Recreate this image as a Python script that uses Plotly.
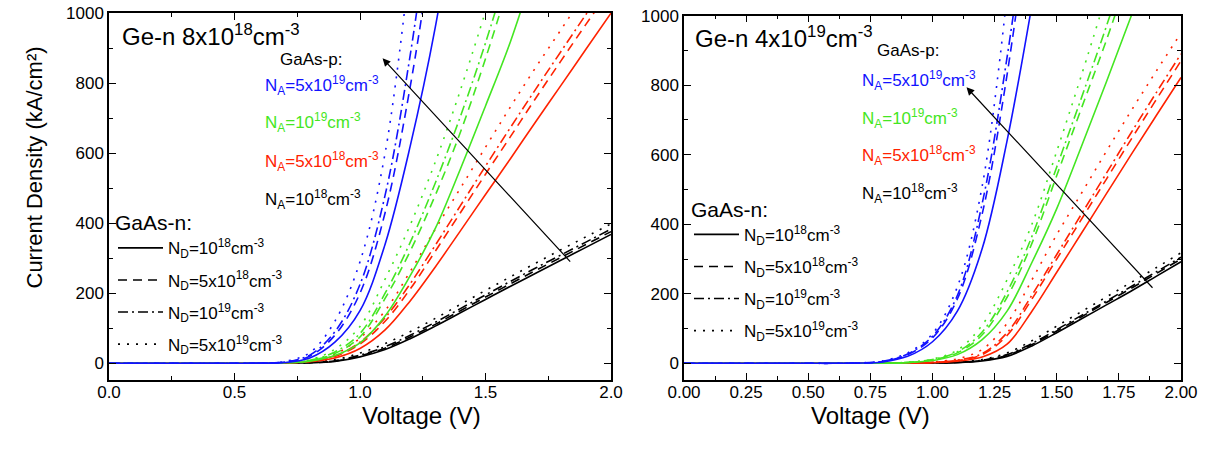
import plotly.graph_objects as go

# ---------------- data ----------------
V = [0.0, 0.5, 0.6, 0.7, 0.8, 0.9, 1.0, 1.1, 1.2, 1.3, 1.4, 1.5, 1.6, 1.7, 1.8, 1.9, 2.0]

# Left panel: Ge-n 8x10^18 cm^-3   (current density, kA/cm^2)
L_BK_SOLID = [0, 0, 0.1, 0.4, 1, 5, 18, 39, 70, 106, 144, 182, 220, 257, 294, 331, 368]
L_BK_DASH  = [0, 0, 0.1, 0.5, 1.5, 6, 21, 43, 75, 111, 150, 189, 227, 265, 302, 339, 376]
L_BK_DDOT  = [0, 0, 0.1, 0.6, 2, 7, 23, 47, 80, 117, 156, 195, 234, 272, 309, 346, 383]
L_BK_DOT   = [0, 0, 0.2, 0.8, 3, 10, 29, 56, 90, 128, 168, 208, 247, 286, 324, 361, 398]

L_RD_SOLID = [0, 0, 0.1, 1, 4, 15, 42, 95, 178, 275, 378, 482, 585, 690, 793, 897, 1000]
L_RD_DASH  = [0, 0, 0.1, 1.2, 5, 19, 55, 120, 212, 320, 430, 540, 648, 757, 863, 968, 1070]
L_RD_DDOT  = [0, 0, 0.1, 1.3, 5.5, 21, 60, 130, 227, 337, 450, 563, 674, 783, 890, 996, 1100]
L_RD_DOT   = [0, 0, 0.2, 1.6, 7, 26, 72, 150, 262, 383, 500, 617, 733, 845, 952, 1060, None]

L_GR_SOLID = [0, 0, 0.1, 1.2, 6, 22, 58, 135, 250, 385, 555, 735, 920, 1140, None, None, None]
L_GR_DASH  = [0, 0, 0.1, 1.5, 7, 28, 75, 185, 320, 480, 660, 870, 1100, None, None, None, None]
L_GR_DDOT  = [0, 0, 0.1, 1.7, 8, 32, 85, 200, 345, 515, 705, 915, 1150, None, None, None, None]
L_GR_DOT   = [0, 0, 0.2, 2, 10, 40, 105, 240, 395, 575, 780, 1005, None, None, None, None, None]

L_BL_SOLID = [0, 0, 0.2, 2, 15, 60, 150, 340, 620, 960, 1400, None, None, None, None, None, None]
L_BL_DASH  = [0, 0, 0.3, 3, 20, 80, 200, 430, 790, 1250, None, None, None, None, None, None, None]
L_BL_DDOT  = [0, 0, 0.3, 3.5, 23, 90, 225, 480, 880, 1400, None, None, None, None, None, None, None]
L_BL_DOT   = [0, 0, 0.4, 5, 30, 120, 290, 600, 1150, None, None, None, None, None, None, None, None]

# Right panel: Ge-n 4x10^19 cm^-3
R_BK_SOLID = [0, 0, 0, 0, 0.2, 0.5, 1, 2, 7, 20, 50, 88, 128, 168, 208, 250, 292]
R_BK_DASH  = [0, 0, 0, 0, 0.2, 0.6, 1.2, 2.5, 8, 23, 54, 93, 134, 175, 216, 258, 300]
R_BK_DDOT  = [0, 0, 0, 0, 0.3, 0.7, 1.4, 3, 9, 25, 57, 97, 138, 179, 221, 263, 305]
R_BK_DOT   = [0, 0, 0, 0, 0.3, 0.8, 1.7, 4, 11, 30, 65, 107, 149, 191, 233, 275, 318]

R_RD_SOLID = [0, 0, 0, 0, 0.1, 0.5, 2, 6, 18, 55, 150, 262, 375, 488, 601, 712, 822]
R_RD_DASH  = [0, 0, 0, 0, 0.1, 0.6, 2.5, 8, 25, 80, 185, 300, 415, 530, 645, 758, 870]
R_RD_DDOT  = [0, 0, 0, 0, 0.1, 0.7, 3, 9, 28, 88, 196, 313, 430, 547, 664, 778, 890]
R_RD_DOT   = [0, 0, 0, 0, 0.2, 0.9, 4, 13, 40, 115, 240, 370, 490, 610, 727, 840, 950]

R_GR_SOLID = [0, 0, 0, 0, 0.3, 2, 8, 25, 68, 150, 290, 445, 625, 810, 1000, 1200, None]
R_GR_DASH  = [0, 0, 0, 0, 0.4, 2.5, 10, 30, 82, 190, 345, 540, 735, 930, 1140, None, None]
R_GR_DDOT  = [0, 0, 0, 0, 0.4, 2.7, 11, 33, 90, 205, 365, 565, 765, 970, 1190, None, None]
R_GR_DOT   = [0, 0, 0, 0, 0.5, 3, 12, 38, 110, 240, 400, 610, 830, 1060, None, None, None]

R_BL_SOLID = [0, 0, 0, 0.5, 4, 20, 62, 150, 330, 640, 1030, None, None, None, None, None, None]
R_BL_DASH  = [0, 0, 0, 0.8, 5, 25, 73, 185, 430, 830, 1350, None, None, None, None, None, None]
R_BL_DDOT  = [0, 0, 0, 0.9, 6, 27, 78, 195, 460, 880, 1400, None, None, None, None, None, None]
R_BL_DOT   = [0, 0, 0.1, 1, 7, 30, 85, 220, 510, 1060, None, None, None, None, None, None, None]

ND_LABELS = ["N<sub>D</sub>=10<sup>18</sup>cm<sup>-3</sup>",
             "N<sub>D</sub>=5x10<sup>18</sup>cm<sup>-3</sup>",
             "N<sub>D</sub>=10<sup>19</sup>cm<sup>-3</sup>",
             "N<sub>D</sub>=5x10<sup>19</sup>cm<sup>-3</sup>"]
NA_LABELS = ["N<sub>A</sub>=5x10<sup>19</sup>cm<sup>-3</sup>",
             "N<sub>A</sub>=10<sup>19</sup>cm<sup>-3</sup>",
             "N<sub>A</sub>=5x10<sup>18</sup>cm<sup>-3</sup>",
             "N<sub>A</sub>=10<sup>18</sup>cm<sup>-3</sup>"]

# ---------------- styles ----------------
FONT = "Liberation Sans, Arial, sans-serif"
BLACK, RED, GREEN, BLUE = "#000000", "#ff2200", "#44e622", "#1212ff"
DASHES = ["solid", "9px,6px", "10px,4px,2px,4px", "2px,7px"]
LW = 1.6
W, H = 1210, 450


def px(x):
    """screen pixel x -> paper fraction"""
    return x / W


def py(y):
    """screen pixel y -> paper fraction"""
    return 1 - y / H


fig = go.Figure()

panels = [
    ("x", "y", [(BLACK, [L_BK_SOLID, L_BK_DASH, L_BK_DDOT, L_BK_DOT]),
                (RED, [L_RD_SOLID, L_RD_DASH, L_RD_DDOT, L_RD_DOT]),
                (GREEN, [L_GR_SOLID, L_GR_DASH, L_GR_DDOT, L_GR_DOT]),
                (BLUE, [L_BL_SOLID, L_BL_DASH, L_BL_DDOT, L_BL_DOT])]),
    ("x2", "y2", [(BLACK, [R_BK_SOLID, R_BK_DASH, R_BK_DDOT, R_BK_DOT]),
                  (RED, [R_RD_SOLID, R_RD_DASH, R_RD_DDOT, R_RD_DOT]),
                  (GREEN, [R_GR_SOLID, R_GR_DASH, R_GR_DDOT, R_GR_DOT]),
                  (BLUE, [R_BL_SOLID, R_BL_DASH, R_BL_DDOT, R_BL_DOT])]),
]

for xa, ya, groups in panels:
    for color, series in groups:
        for k in [3, 2, 1, 0]:
            fig.add_trace(go.Scatter(
                x=V, y=series[k], xaxis=xa, yaxis=ya, mode="lines",
                line=dict(color=color, width=LW, dash=DASHES[k], shape="spline", smoothing=1.0),
                showlegend=False, hoverinfo="skip"))

# legend entries (style keys) for both panels
for li, (xa, ya) in enumerate([("x", "y"), ("x2", "y2")]):
    for k in range(4):
        fig.add_trace(go.Scatter(
            x=[None], y=[None], xaxis=xa, yaxis=ya, mode="lines",
            line=dict(color=BLACK, width=LW, dash=DASHES[k]),
            name=ND_LABELS[k], legend="legend" if li == 0 else "legend2",
            legendgroup=f"g{li}{k}", showlegend=True))

axis_common = dict(showline=True, linecolor="black", linewidth=1.5, mirror="allticks",
                   ticks="inside", ticklen=7, tickwidth=1.2, tickcolor="black",
                   showgrid=False, zeroline=False, automargin=False,
                   ticklabeloverflow="allow",
                   tickfont=dict(family=FONT, size=17, color="black"))

legend_common = dict(xanchor="left", yanchor="top", bgcolor="rgba(0,0,0,0)",
                     font=dict(family=FONT, size=17),
                     title=dict(text="GaAs-n:", font=dict(family=FONT, size=21)),
                     itemwidth=45, traceorder="grouped")

fig.update_layout(
    width=W, height=H, margin=dict(l=0, r=0, t=0, b=0),
    paper_bgcolor="white", plot_bgcolor="white",
    font=dict(family=FONT, color="black"),
    xaxis=dict(domain=[px(109), px(611)], range=[0, 2], dtick=0.5, tickformat=".1f",
               anchor="y", ticklabelstandoff=-4,
               minor=dict(dtick=0.25, ticks="inside", ticklen=4, tickcolor="black"),
               **axis_common),
    yaxis=dict(domain=[py(380), py(13)], range=[-48, 1000.5], tick0=0, dtick=200,
               anchor="x", minor=dict(dtick=100, ticks="inside", ticklen=4, tickcolor="black"),
               **axis_common),
    xaxis2=dict(domain=[px(684), px(1181)], range=[0, 2], dtick=0.25, tickformat=".2f",
                anchor="y2", ticklabelstandoff=-4,
                minor=dict(dtick=0.125, ticks="inside", ticklen=4, tickcolor="black"),
                **axis_common),
    yaxis2=dict(domain=[py(380), py(15.5)], range=[-48, 1000.5], tick0=0, dtick=200,
                anchor="x2", minor=dict(dtick=100, ticks="inside", ticklen=4, tickcolor="black"),
                **axis_common),
    legend=dict(x=px(113), y=py(203), tracegroupgap=7, **legend_common),
    legend2=dict(x=px(689), y=py(189.5), tracegroupgap=7, **legend_common),
)

ann = []
# titles
ann.append(dict(text="Ge-n 8x10<sup>18</sup>cm<sup>-3</sup>", x=px(120), y=py(35),
                xanchor="left", yanchor="middle", font=dict(size=24)))
ann.append(dict(text="Ge-n 4x10<sup>19</sup>cm<sup>-3</sup>", x=px(693), y=py(37),
                xanchor="left", yanchor="middle", font=dict(size=24)))
# GaAs-p labels
ann.append(dict(text="GaAs-p:", x=px(278), y=py(60), xanchor="left", yanchor="middle",
                font=dict(size=17)))
ann.append(dict(text="GaAs-p:", x=px(875), y=py(50), xanchor="left", yanchor="middle",
                font=dict(size=17)))
na_colors = [BLUE, GREEN, RED, BLACK]
left_rows = [85, 123, 161, 199]
right_rows = [81, 118, 155, 193]
for t, c, yl, yr in zip(NA_LABELS, na_colors, left_rows, right_rows):
    ann.append(dict(text=t, x=px(263), y=py(yl), xanchor="left", yanchor="middle",
                    font=dict(size=17, color=c)))
    ann.append(dict(text=t, x=px(860), y=py(yr), xanchor="left", yanchor="middle",
                    font=dict(size=17, color=c)))
for a in ann:
    a.update(xref="paper", yref="paper", showarrow=False)

# axis titles
ann.append(dict(text="Current Density (kA/cm²)", x=px(20), y=py(168), xref="paper", yref="paper",
                textangle=-90, showarrow=False, font=dict(size=22)))
ann.append(dict(text="Voltage (V)", x=px(360), y=py(431), xref="paper", yref="paper",
                showarrow=False, font=dict(size=24)))
ann.append(dict(text="Voltage (V)", x=px(932), y=py(431), xref="paper", yref="paper",
                showarrow=False, font=dict(size=24)))

# arrows (trend of increasing N_A)
ann.append(dict(text="", x=1.09, y=871, ax=1.843, ay=286, xref="x", yref="y", axref="x", ayref="y",
                showarrow=True, arrowhead=2, arrowsize=1.3, arrowwidth=1.2, arrowcolor="black"))
ann.append(dict(text="", x=1.137, y=794, ax=1.891, ay=213, xref="x2", yref="y2", axref="x2", ayref="y2",
                showarrow=True, arrowhead=2, arrowsize=1.3, arrowwidth=1.2, arrowcolor="black"))

fig.update_layout(annotations=ann)
# remove the default page margin so the 1210x450 figure fills the window exactly
fig.write_html("out.html", config={"displayModeBar": False},
               post_script="document.body.style.margin='0';document.body.style.overflow='hidden';")
